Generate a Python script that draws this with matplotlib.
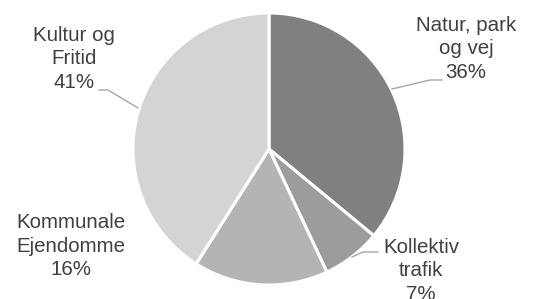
import matplotlib
matplotlib.use("Agg")
import matplotlib.pyplot as plt

categories = ["Natur, park\nog vej", "Kollektiv\ntrafik", "Kommunale\nEjendomme", "Kultur og\nFritid"]
values = [36, 7, 16, 41]
colors = ["#808080", "#9c9c9c", "#b4b4b4", "#d4d4d4"]

W, H = 533, 299
fig = plt.figure(figsize=(W / 100, H / 100), dpi=100)
ax = fig.add_axes([0, 0, 1, 1])

def py(y):
    return H - y

cx, cy, r = 269, 149, 136
ax.pie(values, colors=colors, startangle=90, counterclock=False,
       center=(cx, py(cy)), radius=r, frame=True,
       wedgeprops=dict(edgecolor="white", linewidth=2.2))
ax.set_xlim(0, W)
ax.set_ylim(0, H)
ax.set_aspect("equal")
ax.axis("off")

labels = [f"{c}\n{v}%" for c, v in zip(categories, values)]
label_pos = [(466, 49), (421, 271), (71, 246), (74, 59)]
leaders = [
    [(392, 89), (430, 80), (442, 80)],
    [(352, 257), (363, 252), (378, 252)],
    None,
    [(138, 108), (108, 90), (99, 90)],
]
for lab, (x, y), ld in zip(labels, label_pos, leaders):
    ax.text(x, py(y), lab, ha="center", va="center", fontsize=14.8,
            family="Liberation Sans", color="#404040", linespacing=1.32)
    if ld:
        xs = [p[0] for p in ld]
        ys = [py(p[1]) for p in ld]
        ax.plot(xs, ys, color="#a6a6a6", lw=1.0)

fig.savefig("out.png", dpi=100)
